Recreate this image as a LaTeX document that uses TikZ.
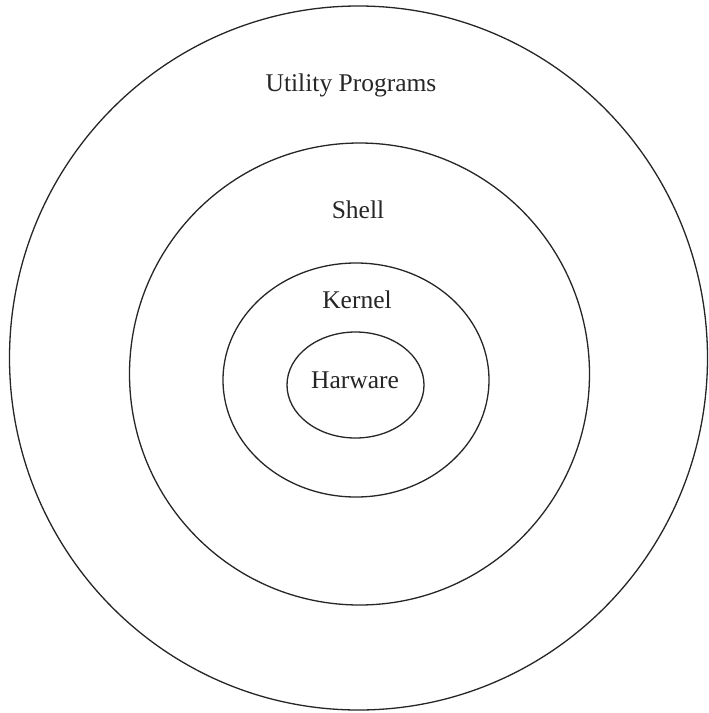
\documentclass[tikz,border=0pt]{standalone}
\usepackage{fontspec}
\setmainfont{Liberation Serif}
\begin{document}
\begin{tikzpicture}[x=1pt,y=-1pt,
  ring/.style={draw=black!85,line width=1.3pt},
  lbl/.style={font=\fontsize{25.5}{28}\selectfont,text=black!85,inner sep=0pt}]
\useasboundingbox (0,0) rectangle (709,713);
\fill[white] (0,0) rectangle (709,713);
\draw[ring] (358.5,358) ellipse [x radius=349, y radius=352];
\draw[ring] (359.5,374) ellipse [x radius=230, y radius=231];
\draw[ring] (356,380) ellipse [x radius=133, y radius=117];
\draw[ring] (355.5,385) ellipse [x radius=68.5, y radius=53];
\node[lbl] (util) at (351,85) {Utility Programs};
\node[lbl] (shell) at (358,210) {Shell};
\node[lbl] (kernel) at (357,300) {Kernel};
\node[lbl] (hw) at (355,380) {Harware};
\end{tikzpicture}
\end{document}
